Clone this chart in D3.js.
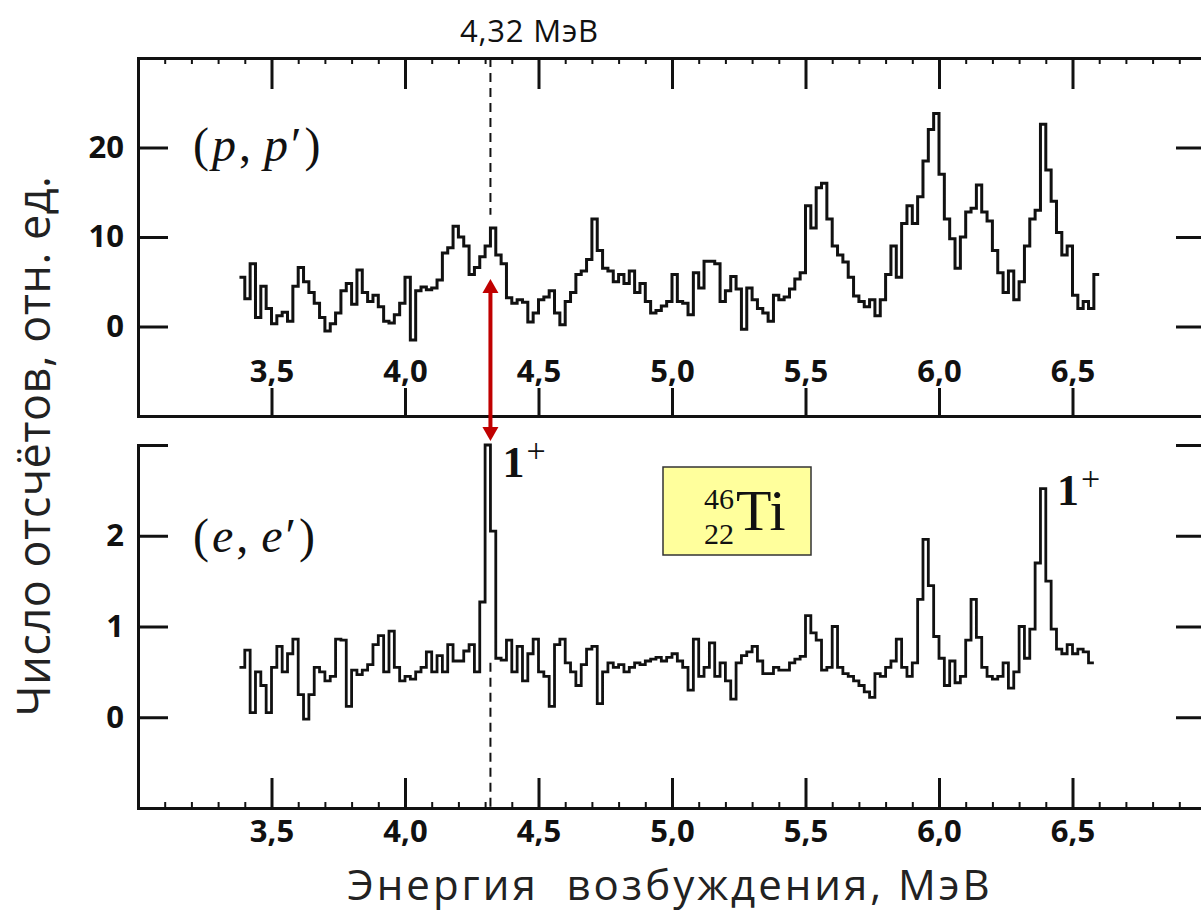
<!DOCTYPE html>
<html>
<head>
<meta charset="utf-8">
<script src="https://cdn.jsdelivr.net/npm/d3@7"></script>
<style>
  body { margin: 0; background: #fff; }
  svg { display: block; }
  .axis path, .axis line { stroke: #111; }
  .axis text { fill: #111; font-family: 'Open Sans', sans-serif; font-weight: 700; }
</style>
</head>
<body>
<div id="chart"></div>
<script>
// histogram bins, MeV
const binStart = 3.38
const binWidth = 0.02
const refEnergy = 4.32

// (p,p') counts per bin, rel. units
const ppCounts = [
  5.5, 3.1, 7.0, 1.0, 4.5, 2.0, 0.3, 1.2, 1.6, 0.6,
  4.5, 6.6, 5.0, 3.8, 2.6, 1.0, -0.5, 0.3, 1.5, 4.0,
  4.8, 2.5, 6.3, 3.8, 2.8, 3.5, 2.2, 0.6, 0.4, 1.3,
  2.6, 5.5, -1.5, 4.0, 4.4, 4.1, 4.3, 5.2, 8.2, 8.8,
  11.2, 10.0, 9.0, 5.8, 6.6, 7.8, 9.0, 11.0, 8.0, 7.0,
  3.2, 2.6, 3.0, 2.7, 0.5, 1.5, 3.0, 3.3, 4.0, 1.5,
  0.2, 2.8, 3.8, 5.8, 6.2, 7.5, 12.0, 8.5, 6.5, 6.2,
  5.0, 5.8, 4.8, 6.2, 3.8, 4.8, 2.8, 1.5, 1.8, 2.3,
  2.8, 5.8, 2.8, 2.6, 1.3, 6.0, 4.3, 7.3, 7.3, 7.0,
  2.8, 4.0, 5.6, 4.2, -0.3, 4.3, 3.0, 2.0, 1.5, 0.6,
  3.5, 3.0, 3.3, 4.2, 5.3, 6.0, 13.5, 11.0, 15.5, 16.0,
  12.0, 9.0, 8.0, 7.2, 5.5, 3.4, 2.8, 2.2, 3.0, 1.2,
  3.0, 5.8, 9.0, 5.5, 11.5, 13.5, 11.5, 14.5, 18.5, 22.0,
  23.8, 17.0, 12.0, 9.8, 6.5, 10.0, 12.8, 13.2, 15.8, 12.8,
  11.8, 8.5, 6.0, 3.8, 6.2, 3.0, 5.0, 9.0, 12.0, 13.0,
  22.6, 17.5, 14.0, 10.5, 8.0, 9.0, 3.5, 2.0, 2.8, 2.0,
  5.8
]

// (e,e') counts per bin, rel. units
const eeCounts = [
  0.55, 0.74, 0.05, 0.50, 0.35, 0.05, 0.55, 0.78, 0.50, 0.70,
  0.86, 0.25, -0.02, 0.25, 0.55, 0.50, 0.40, 0.45, 0.86, 0.85,
  0.12, 0.52, 0.47, 0.52, 0.58, 0.80, 0.90, 0.50, 0.95, 0.55,
  0.40, 0.45, 0.42, 0.50, 0.55, 0.72, 0.50, 0.68, 0.50, 0.80,
  0.62, 0.62, 0.73, 0.80, 0.50, 1.27, 3.0, 2.05, 0.65, 0.63,
  0.85, 0.50, 0.78, 0.40, 0.70, 0.86, 0.50, 0.45, 0.12, 0.80,
  0.86, 0.60, 0.50, 0.35, 0.58, 0.75, 0.78, 0.15, 0.50, 0.60,
  0.55, 0.58, 0.50, 0.55, 0.60, 0.58, 0.62, 0.64, 0.66, 0.62,
  0.66, 0.70, 0.62, 0.55, 0.30, 0.86, 0.45, 0.55, 0.82, 0.45,
  0.60, 0.40, 0.20, 0.60, 0.68, 0.72, 0.78, 0.62, 0.48, 0.48,
  0.55, 0.52, 0.52, 0.60, 0.64, 0.67, 1.12, 0.93, 0.85, 0.52,
  0.55, 1.0, 0.55, 0.48, 0.45, 0.40, 0.35, 0.28, 0.22, 0.48,
  0.45, 0.55, 0.62, 0.86, 0.55, 0.45, 0.60, 1.30, 1.96, 1.45,
  0.89, 0.65, 0.35, 0.62, 0.38, 0.45, 0.85, 1.30, 0.88, 0.55,
  0.45, 0.42, 0.45, 0.60, 0.32, 0.50, 1.0, 0.65, 0.97, 1.70,
  2.52, 1.50, 0.97, 0.75, 0.70, 0.80, 0.70, 0.75, 0.72, 0.60
]

const majorTicks = [3.5, 4.0, 4.5, 5.0, 5.5, 6.0, 6.5]
const minorTicks = d3.range(31, 70).map(d => d / 10).filter(d => !majorTicks.includes(d))
const ppTicks = [0, 10, 20]
const eeTicks = [0, 1, 2, 3]

const width = 1201
const height = 914

const svg = d3
  .select('#chart')
  .append('svg')
  .attr('width', width)
  .attr('height', height)

const xPositionScale = d3.scaleLinear().domain([3.0, 7.0]).range([138, 1206])
const yTop = d3.scaleLinear().domain([-10, 30]).range([416, 58])
const yBottom = d3.scaleLinear().domain([-1, 3]).range([808, 445])

const fmt = d => d.toFixed(1).replace('.', ',')

function toPoints(counts) {
  const pts = counts.map((c, i) => [binStart + i * binWidth, c])
  pts.push([binStart + counts.length * binWidth, counts[counts.length - 1]])
  return pts
}

function styleAxis(g, w) {
  g.attr('class', 'axis')
  g.selectAll('path').attr('stroke-width', w).attr('stroke-linecap', 'square')
  g.selectAll('line').attr('stroke-width', w)
  g.selectAll('text').attr('font-size', 31)
}

// ---------- top panel (p,p') ----------
const topPanel = svg.append('g')

topPanel.append('g')
  .attr('transform', `translate(0,${yTop(30)})`)
  .call(d3.axisBottom(xPositionScale).tickValues(minorTicks).tickSize(6).tickSizeOuter(0).tickFormat(''))
  .call(g => styleAxis(g, 2))

topPanel.append('g')
  .attr('transform', `translate(0,${yTop(30)})`)
  .call(d3.axisBottom(xPositionScale).tickValues(majorTicks).tickSize(31).tickSizeOuter(0).tickFormat(''))
  .call(g => styleAxis(g, 3))

topPanel.append('g')
  .attr('transform', `translate(0,${yTop(-10)})`)
  .call(d3.axisTop(xPositionScale).tickValues(majorTicks).tickSize(28).tickSizeOuter(0).tickPadding(6).tickFormat(fmt))
  .call(g => styleAxis(g, 3))

topPanel.append('g')
  .attr('transform', `translate(${xPositionScale(3.0)},0)`)
  .call(d3.axisLeft(yTop).tickValues(ppTicks).tickSizeInner(-30).tickSizeOuter(0).tickPadding(14))
  .call(g => styleAxis(g, 3))

topPanel.append('g')
  .attr('transform', `translate(${xPositionScale(7.0)},0)`)
  .call(d3.axisLeft(yTop).tickValues(ppTicks).tickSize(30).tickSizeOuter(0).tickFormat(''))
  .call(g => styleAxis(g, 3))

const lineTop = d3.line()
  .x(d => xPositionScale(d[0]))
  .y(d => yTop(d[1]))
  .curve(d3.curveStepAfter)

topPanel.append('path')
  .datum(toPoints(ppCounts))
  .attr('d', lineTop)
  .attr('fill', 'none')
  .attr('stroke', '#111')
  .attr('stroke-width', 3)

// ---------- bottom panel (e,e') ----------
const bottomPanel = svg.append('g')

bottomPanel.append('g')
  .attr('transform', `translate(0,${yBottom(-1)})`)
  .call(d3.axisTop(xPositionScale).tickValues(minorTicks).tickSize(6).tickSizeOuter(0).tickFormat(''))
  .call(g => styleAxis(g, 2))

bottomPanel.append('g')
  .attr('transform', `translate(0,${yBottom(-1)})`)
  .call(d3.axisBottom(xPositionScale).tickValues(majorTicks).tickSizeInner(-30).tickSizeOuter(0).tickPadding(12).tickFormat(fmt))
  .call(g => styleAxis(g, 3))

bottomPanel.append('g')
  .attr('transform', `translate(${xPositionScale(3.0)},0)`)
  .call(d3.axisLeft(yBottom).tickValues(eeTicks).tickSizeInner(-30).tickSizeOuter(0).tickPadding(14).tickFormat(d => d === 3 ? '' : d))
  .call(g => styleAxis(g, 3))

bottomPanel.append('g')
  .attr('transform', `translate(${xPositionScale(7.0)},0)`)
  .call(d3.axisLeft(yBottom).tickValues(eeTicks).tickSize(30).tickSizeOuter(0).tickFormat(''))
  .call(g => styleAxis(g, 3))

const lineBottom = d3.line()
  .x(d => xPositionScale(d[0]))
  .y(d => yBottom(d[1]))
  .curve(d3.curveStepAfter)

bottomPanel.append('path')
  .datum(toPoints(eeCounts))
  .attr('d', lineBottom)
  .attr('fill', 'none')
  .attr('stroke', '#111')
  .attr('stroke-width', 2.8)

// ---------- 4.32 MeV marker ----------
const xRef = xPositionScale(refEnergy)

svg.append('text')
  .attr('x', xRef + 39)
  .attr('y', 42)
  .attr('text-anchor', 'middle')
  .attr('font-family', 'Open Sans, sans-serif')
  .attr('font-size', 31)
  .attr('letter-spacing', 0.8)
  .attr('fill', '#111')
  .text('4,32 МэВ')

svg.append('line')
  .attr('x1', xRef).attr('x2', xRef)
  .attr('y1', yTop(30)).attr('y2', yTop(12.5))
  .attr('stroke', '#111')
  .attr('stroke-width', 2)
  .attr('stroke-dasharray', '9,6')

svg.append('line')
  .attr('x1', xRef).attr('x2', xRef)
  .attr('y1', yBottom(0.6)).attr('y2', yBottom(-1))
  .attr('stroke', '#111')
  .attr('stroke-width', 2)
  .attr('stroke-dasharray', '9,6')

// red double arrow
const arrowColor = '#c00000'
const arrowTop = 279
const arrowBottom = 441
svg.append('line')
  .attr('x1', xRef).attr('x2', xRef)
  .attr('y1', arrowTop + 10).attr('y2', arrowBottom - 10)
  .attr('stroke', arrowColor)
  .attr('stroke-width', 4)
svg.append('path')
  .attr('d', `M${xRef},${arrowTop} L${xRef - 8},${arrowTop + 14} L${xRef + 8},${arrowTop + 14} Z`)
  .attr('fill', arrowColor)
svg.append('path')
  .attr('d', `M${xRef},${arrowBottom} L${xRef - 8},${arrowBottom - 14} L${xRef + 8},${arrowBottom - 14} Z`)
  .attr('fill', arrowColor)

// ---------- labels ----------
function reactionLabel(x, y, letter) {
  const t = svg.append('text')
    .attr('x', x)
    .attr('y', y)
    .attr('font-family', 'Liberation Serif, serif')
    .attr('font-size', 48)
    .attr('letter-spacing', 3)
    .attr('fill', '#111')
  t.append('tspan').text('(')
  t.append('tspan').attr('font-style', 'italic').text(letter)
  t.append('tspan').text(',')
  t.append('tspan').attr('font-style', 'italic').attr('dx', 10).text(letter)
  t.append('tspan').text('′)')
}
reactionLabel(193, 161, 'p')
reactionLabel(193, 552, 'e')

function spinLabel(x, y) {
  const t = svg.append('text')
    .attr('x', x)
    .attr('y', y)
    .attr('font-family', 'Liberation Serif, serif')
    .attr('font-weight', 700)
    .attr('font-size', 44)
    .attr('fill', '#111')
  t.append('tspan').text('1')
  t.append('tspan').attr('font-size', 34).attr('font-weight', 400).attr('dx', 2).attr('dy', -15).text('+')
}
spinLabel(xRef + 12, 477)
spinLabel(1057, 505)

// nucleus box
const box = svg.append('g').attr('transform', 'translate(663,467)')
box.append('rect')
  .attr('width', 148)
  .attr('height', 88)
  .attr('fill', '#ffff9c')
  .attr('stroke', '#333')
  .attr('stroke-width', 1.5)
const nucl = box.append('text')
  .attr('text-anchor', 'end')
  .attr('font-family', 'Liberation Serif, serif')
  .attr('font-size', 30)
  .attr('fill', '#111')
nucl.append('tspan').attr('x', 71).attr('y', 42).text('46')
nucl.append('tspan').attr('x', 71).attr('y', 77).text('22')
box.append('text')
  .attr('x', 73).attr('y', 63)
  .attr('font-family', 'Liberation Serif, serif')
  .attr('font-size', 58)
  .attr('fill', '#111')
  .text('Ti')

// axis titles
svg.append('text')
  .attr('transform', 'translate(50,446) rotate(-90)')
  .attr('text-anchor', 'middle')
  .attr('font-family', 'Open Sans, sans-serif')
  .attr('font-size', 45)
  .attr('letter-spacing', 0.5)
  .attr('fill', '#222')
  .text('Число отсчётов, отн. ед.')

svg.append('text')
  .attr('x', 670)
  .attr('y', 900)
  .attr('text-anchor', 'middle')
  .attr('font-family', 'Open Sans, sans-serif')
  .attr('font-size', 42)
  .attr('letter-spacing', 3)
  .attr('fill', '#222')
  .style('white-space', 'pre')
  .text('Энергия  возбуждения, МэВ')
</script>
</body>
</html>
